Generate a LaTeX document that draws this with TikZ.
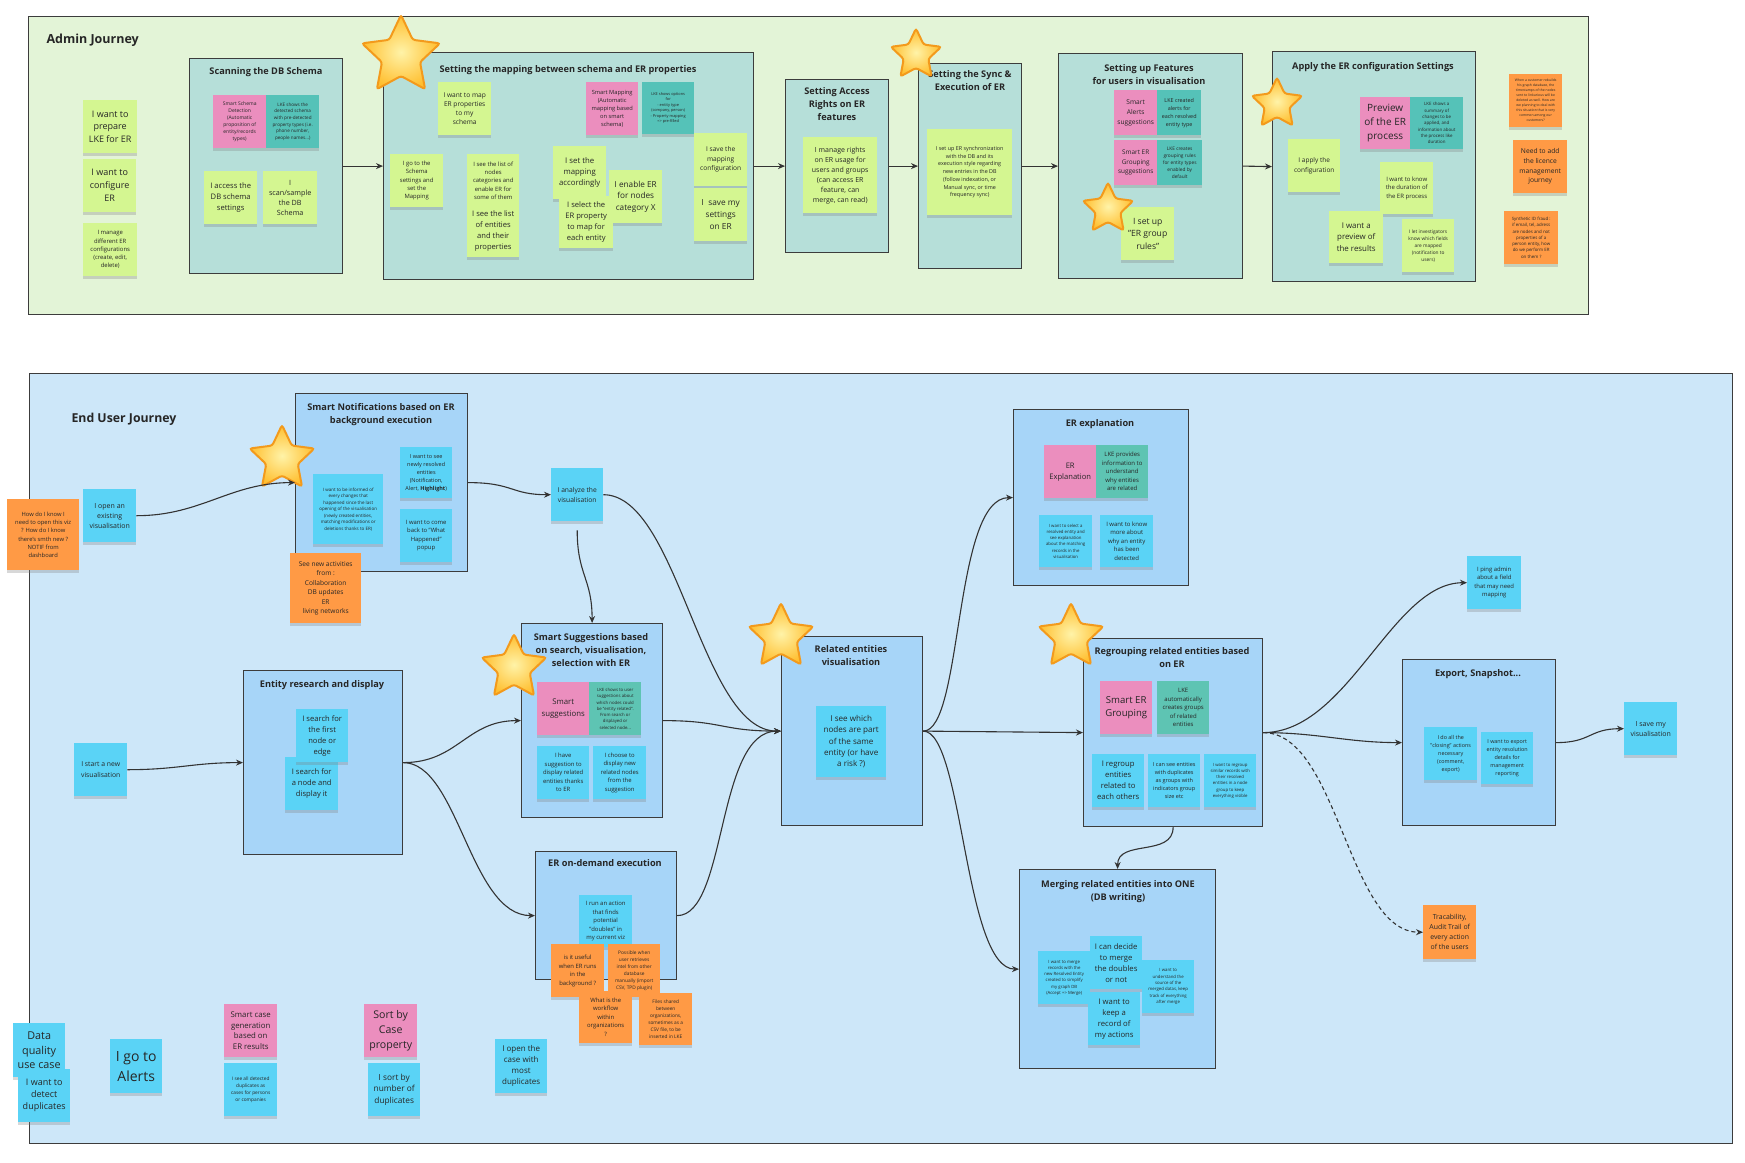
\documentclass[tikz,border=0pt]{standalone}
\usepackage{fontspec}
\setmainfont{Open Sans}
\usetikzlibrary{shapes.geometric,arrows.meta,shadows}
\definecolor{bgA}{HTML}{E3F4D7}
\definecolor{boxA}{HTML}{B6DFD9}
\definecolor{bgE}{HTML}{CDE7F9}
\definecolor{boxE}{HTML}{A7D5F8}
\definecolor{lime}{HTML}{D4F691}
\definecolor{pinkS}{HTML}{EB8EBE}
\definecolor{tealS}{HTML}{55C2B8}
\definecolor{tealE}{HTML}{5EC4B3}
\definecolor{orS}{HTML}{FF9A45}
\definecolor{cyS}{HTML}{5AD3F6}
\definecolor{frm}{HTML}{3C3C3C}
\definecolor{txt}{HTML}{262626}
\definecolor{lnk}{HTML}{333333}
\definecolor{starIn}{HTML}{FFF3A8}
\definecolor{starOut}{HTML}{FFBE2E}
\definecolor{starEdge}{HTML}{F39A1C}
\begin{document}
\begin{tikzpicture}[x=1pt,y=-1pt,
 fs/.style 2 args={font=\fontsize{#1}{#2}\selectfont},
 sz/.style 2 args={minimum width=#1pt, minimum height=#2pt},
 stickyN/.style={anchor=north west, align=center, inner sep=1pt, text=txt, sz={53}{53},
   drop shadow={opacity=0.3, shadow xshift=0pt, shadow yshift=-2.5pt}},
 stG/.style={stickyN, fill=lime},
 stP/.style={stickyN, fill=pinkS},
 stT/.style={stickyN, fill=tealS},
 stE/.style={stickyN, fill=tealE},
 stO/.style={stickyN, fill=orS},
 stC/.style={stickyN, fill=cyS},
 bigframe/.style={draw=frm, line width=1.2pt, anchor=north west, inner sep=0pt},
 abox/.style={bigframe, fill=boxA},
 ebox/.style={bigframe, fill=boxE},
 ttl/.style={font=\fontsize{9.2}{13}\selectfont\bfseries, text=txt, align=center},
 starS/.style={star, star points=5, star point ratio=2.05, inner sep=0pt, draw=starEdge,
   line width=2pt, inner color=starIn, outer color=starOut, rounded corners=2.5pt, minimum size=#1pt},
 conn/.style={draw=lnk, line width=1.1pt, -{Stealth[length=7pt,width=6pt]}},
]
\useasboundingbox (0,0) rectangle (1745,1162);
\fill[white] (0,0) rectangle (1745,1162);

% ===== Admin journey =====
\node[bigframe, fill=bgA, sz={1560}{298}] (adminF) at (28,16) {};
\node[anchor=west, font=\fontsize{12.5}{15}\selectfont\bfseries, text=txt] (adminT) at (43,40) {Admin Journey};

\node[abox, sz={153}{215}] (scan) at (189,58) {};
\node[abox, sz={370}{227}] (map) at (383,52) {};
\node[abox, sz={103}{173}] (acc) at (785,79) {};
\node[abox, sz={103}{205}] (sync) at (918,63) {};
\node[abox, sz={184}{225}] (feat) at (1058,53) {};
\node[abox, sz={203}{230}] (apply) at (1272,51) {};

\node[ttl] (tscan) at (266,72) {Scanning the DB Schema};
\node[ttl] (tmap) at (568,70) {Setting the mapping between schema and ER properties};
\node[ttl] (tacc) at (837,104) {Setting Access\\Rights on ER\\features};
\node[ttl] (tsync) at (970,81) {Setting the Sync \&\\Execution of ER};
\node[ttl] (tfeat) at (1149,75) {Setting up Features\\for users in visualisation};
\node[ttl] (tapply) at (1373,67) {Apply the ER configuration Settings};

\node[stG, fs={9}{12.7}, sz={54}{53}] (a1) at (83,100) {I want to\\prepare\\LKE for ER};
\node[stG, fs={9}{13}] (a2) at (83,159) {I want to\\configure\\ER};
\node[stG, fs={5.9}{8.3}, sz={54}{53}] (a3) at (83,223) {I manage\\different ER\\configurations\\(create, edit,\\delete)};

\node[stP, fs={5}{7}] (s1) at (213,95) {Smart Schema\\Detection\\(Automatic\\proposition of\\entity/records\\types)};
\node[stT, fs={4.6}{6.7}] (s2) at (266,95) {LKE shows the\\detected schema\\with pre-detected\\property types (i.e.\\phone number,\\people names...)};
\node[stG, fs={7.6}{11}] (s3) at (204,171) {I access the\\DB schema\\settings};
\node[stG, fs={7.2}{10}, sz={54}{53}] (s4) at (263,171) {I\\scan/sample\\the DB\\Schema};

\node[stG, fs={6.6}{9.3}] (m1) at (438,82) {I want to map\\ER properties\\to my\\schema};
\node[stP, fs={5.7}{8}, sz={52}{53}] (m2) at (586,82) {Smart Mapping\\(Automatic\\mapping based\\on smart\\schema)};
\node[stT, fs={3.9}{5.5}, sz={52}{52}] (m3) at (642,82) {LKE shows options\\for\\- entity type\\(company, person)\\- Property mapping\\=> pre-filled};
\node[stG, fs={5.9}{8.3}] (m4) at (390,154) {I go to the\\Schema\\settings and\\set the\\Mapping};
\node[stG, fs={5.9}{8.3}, sz={52}{53}] (m5) at (467,154) {I see the list of\\nodes\\categories and\\enable ER for\\some of them};
\node[stG, fs={7.6}{11}, sz={52}{53}] (m6) at (467,204) {I see the list\\of entities\\and their\\properties};
\node[stG, fs={7.8}{11}] (m7) at (553,146) {I set the\\mapping\\accordingly};
\node[stG, fs={8.2}{11.7}] (m9) at (609,170) {I enable ER\\for nodes\\category X};
\node[stG, fs={7.6}{11}, sz={54}{52}] (m8) at (559,196) {I select the\\ER property\\to map for\\each entity};
\node[stG, fs={6.6}{9.5}] (m10) at (694,133) {I save the\\mapping\\configuration};
\node[stG, fs={8.3}{11.7}] (m11) at (694,188) {I\ \ save my\\settings\\on ER};

\node[stG, fs={7}{10}, sz={74}{76}] (r1) at (803,137) {I manage rights\\on ER usage for\\users and groups\\(can access ER\\feature, can\\merge, can read)};
\node[stG, fs={5.4}{7.7}, sz={85}{86}] (y1) at (927,129) {I set up ER synchronization\\with the DB and its\\execution style regarding\\new entries in the DB\\(follow indexation, or\\Manual sync, or time\\frequency sync)};

\node[stP, fs={6.6}{10}, sz={43}{45}] (f1) at (1114,90) {Smart\\Alerts\\suggestions};
\node[stT, fs={5.4}{8}, sz={44}{45}] (f2) at (1157,90) {LKE created\\alerts for\\each resolved\\entity type};
\node[stP, fs={6.4}{9.3}, sz={43}{45}] (f3) at (1114,140) {Smart ER\\Grouping\\suggestions};
\node[stT, fs={4.8}{7}, sz={45}{45}] (f4) at (1157,140) {LKE creates\\grouping rules\\for entity types\\enabled by\\default};
\node[stG, fs={8.6}{12.3}] (f5) at (1121,207) {I set up\\"ER group\\rules"};

\node[stP, fs={10}{14}, sz={50}{52}] (p1) at (1360,97) {Preview\\of the ER\\process};
\node[stT, fs={4.4}{6.3}, sz={53}{52}] (p2) at (1410,97) {LKE shows a\\summary of\\changes to be\\applied, and\\information about\\the process like\\duration};
\node[stG, fs={6.5}{9.3}, sz={52}{53}] (p3) at (1288,139) {I apply the\\configuration};
\node[stG, fs={6}{8.7}, sz={53}{52}] (p4) at (1380,162) {I want to know\\the duration of\\the ER process};
\node[stG, fs={7.9}{11.3}, sz={54}{52}] (p5) at (1329,211) {I want a\\preview of\\the results};
\node[stG, fs={4.8}{7}, sz={52}{53}] (p6) at (1402,219) {I let investigators\\know which fields\\are mapped\\(notification to\\users)};

\node[stO, fs={3.4}{5}] (o1) at (1509,74) {When a customer rebuilds\\his graph database, the\\timestamps of the nodes\\sent to linkurious will be\\deleted as well. How are\\we planning to deal with\\this situation that is very\\common among our\\customers?};
\node[stO, fs={6.7}{9.7}, sz={54}{53}] (o2) at (1513,140) {Need to add\\the licence\\management\\journey};
\node[stO, fs={4.4}{6.3}, sz={54}{53}] (o3) at (1504,211) {Synthetic ID fraud :\\if email, tel, adress\\are nodes and not\\properties of a\\person entity, how\\do we perform ER\\on them ?};

\draw[conn] (scan.east) -- (map.west);
\draw[conn] (map.east) -- (acc.west);
\draw[conn] (acc.east) -- (sync.west);
\draw[conn] (sync.east) -- (feat.west);
\draw[conn] (feat.east) -- (apply.west);

% ===== End user journey =====
\node[bigframe, fill=bgE, sz={1703}{770}] (userF) at (29,373) {};
\node[anchor=west, font=\fontsize{12.3}{15}\selectfont\bfseries, text=txt] (userT) at (68,419) {End User Journey};

\node[ebox, sz={172}{178}] (notif) at (295,393) {};
\node[ebox, sz={141}{194}] (ssb) at (521,623) {};
\node[ebox, sz={141}{128}] (odb) at (535,851) {};
\node[ebox, sz={159}{184}] (erb) at (243,670) {};
\node[ebox, sz={141}{189}] (relb) at (781,636) {};
\node[ebox, sz={175}{176}] (erx) at (1013,409) {};
\node[ebox, sz={179}{188}] (regb) at (1083,638) {};
\node[ebox, sz={196}{199}] (mrg) at (1019,869) {};
\node[ebox, sz={153}{166}] (exp) at (1402,659) {};

\node[ttl] (tnotif) at (381,415) {Smart Notifications based on ER\\background execution};
\node[ttl] (tss) at (591,650) {Smart Suggestions based\\on search, visualisation,\\selection with ER};
\node[ttl] (tod) at (605,863) {ER on-demand execution};
\node[ttl] (ter) at (322,685) {Entity research and display};
\node[ttl] (trel) at (851,656) {Related entities\\visualisation};
\node[ttl] (terx) at (1100,424) {ER explanation};
\node[ttl] (treg) at (1172,658) {Regrouping related entities based\\on ER};
\node[ttl] (tmrg) at (1118,892) {Merging related entities into ONE\\(DB writing)};
\node[ttl] (texp) at (1478,674) {Export, Snapshot...};

\node[stO, fs={5.8}{8.3}, sz={72}{71}] (eq) at (7,499) {How do I know I\\need to open this viz\\? How do I know\\there's smth new ?\\NOTIF from\\dashboard};
\node[stC, fs={7}{10}] (eopen) at (83,489) {I open an\\existing\\visualisation};

\node[stC, fs={4.5}{6.5}, sz={70}{70}] (n1) at (313,474) {I want to be informed of\\every changes that\\happened since the last\\opening of the visualisation\\(newly created entities,\\matching modifications or\\deletions thanks to ER)};
\node[stC, fs={5.5}{8}, sz={52}{51}] (n2) at (400,447) {I want to see\\newly resolved\\entities\\(Notification,\\Alert, \textbf{Highlight})};
\node[stC, fs={5.9}{8.5}, sz={52}{53}] (n3) at (400,509) {I want to come\\back to "What\\Happened"\\popup};
\node[stO, fs={6.6}{9.5}, sz={71}{70}] (n4) at (290,553) {See new activities\\from :\\Collaboration\\DB updates\\ER\\living networks};

\node[stC, fs={6.7}{10}, sz={52}{53}] (analyze) at (551,468) {I analyze the\\visualisation};

\node[stP, fs={7.8}{11.3}, sz={52}{53}] (ss1) at (537,682) {Smart\\suggestions};
\node[stE, fs={4.3}{6.3}, sz={52}{53}] (ss2) at (589,682) {LKE shows to user\\suggestions about\\which nodes could\\be "entity related".\\From search or\\displayed or\\selected node...};
\node[stC, fs={5.9}{8.5}, sz={52}{53}] (ss3) at (537,746) {I have\\suggestion to\\display related\\entities thanks\\to ER};
\node[stC, fs={5.9}{8.5}] (ss4) at (593,746) {I choose to\\display new\\related nodes\\from the\\suggestion};

\node[stC, fs={5.9}{8.5}, sz={53}{52}] (od1) at (579,895) {I run an action\\that finds\\potential\\"doubles" in\\my current viz};
\node[stO, fs={5.9}{8.5}] (od2) at (551,944) {is it useful\\when ER runs\\in the\\background ?};
\node[stO, fs={4.8}{7}, sz={52}{53}] (od3) at (608,944) {Possible when\\user retrieves\\intel from other\\database\\manually (import\\CSV, TPD plugin)};
\node[stO, fs={5.9}{8.5}, sz={53}{52}] (od4) at (579,991) {What is the\\workflow\\within\\organizations\\?};
\node[stO, fs={4.8}{7}, sz={53}{52}] (od5) at (639,993) {Files shared\\between\\organizations,\\sometimes as a\\CSV file, to be\\inserted in LKE};

\node[stC, fs={6.8}{10.3}] (start) at (74,743) {I start a new\\visualisation};
\node[stC, fs={7.6}{11}] (er2) at (285,757) {I search for\\a node and\\display it};
\node[stC, fs={7.6}{11}, sz={52}{53}] (er1) at (296,709) {I search for\\the first\\node or\\edge};

\node[stC, fs={8.1}{11.3}, sz={70}{71}] (rel) at (816,706) {I see which\\nodes are part\\of the same\\entity (or have\\a risk ?)};

\node[stP, fs={7.6}{11}, sz={52}{53}] (x1) at (1044,445) {ER\\Explanation};
\node[stE, fs={6}{8.5}, sz={52}{53}] (x2) at (1096,445) {LKE provides\\information to\\understand\\why entities\\are related};
\node[stC, fs={4.3}{6.3}, sz={53}{52}] (x3) at (1039,515) {I want to select a\\resolved entity and\\see explanation\\about the matching\\records in the\\visualisation};
\node[stC, fs={6}{8.5}, sz={53}{52}] (x4) at (1100,515) {I want to know\\more about\\why an entity\\has been\\detected};

\node[stP, fs={9.6}{13.3}, sz={52}{53}] (g1) at (1100,681) {Smart ER\\Grouping};
\node[stE, fs={6}{8.5}, sz={52}{53}] (g2) at (1157,681) {LKE\\automatically\\creates groups\\of related\\entities};
\node[stC, fs={7.7}{11}, sz={52}{53}] (g3) at (1092,754) {I regroup\\entities\\related to\\each others};
\node[stC, fs={5.5}{8}, sz={52}{53}] (g4) at (1148,754) {I can see entities\\with duplicates\\as groups with\\indicators group\\size etc};
\node[stC, fs={4.3}{6.2}, sz={52}{53}] (g5) at (1204,754) {I want to regroup\\similar records with\\their resolved\\entities in a node\\group to keep\\everything visible};

\node[stC, fs={4.3}{6.2}, sz={52}{53}] (mg1) at (1038,951) {I want to merge\\records with the\\new Resolved Entity\\created to simplify\\my graph DB\\(Accept => Merge)};
\node[stC, fs={7.7}{11}, sz={52}{53}] (mg2) at (1090,936) {I can decide\\to merge\\the doubles\\or not};
\node[stC, fs={7.7}{11}, sz={52}{53}] (mg3) at (1088,992) {I want to\\keep a\\record of\\my actions};
\node[stC, fs={4.3}{6.3}, sz={52}{53}] (mg4) at (1142,960) {I want to\\understand the\\source of the\\merged datas, keep\\track of everything\\after merge};

\node[stC, fs={5.9}{8.5}, sz={54}{53}] (ping) at (1467,556) {I ping admin\\about a field\\that may need\\mapping};
\node[stC, fs={5.4}{8}] (ex1) at (1424,727) {I do all the\\"closing" actions\\necessary\\(comment,\\export)};
\node[stC, fs={5.4}{8}, sz={52}{52}] (ex2) at (1481,732) {I want to export\\entity resolution\\details for\\management\\reporting};
\node[stC, fs={7}{10.3}] (save) at (1624,702) {I save my\\visualisation};
\node[stO, fs={6.9}{10}, sz={53}{54}] (trace) at (1423,905) {Tracability,\\Audit Trail of\\every action\\of the users};

\node[stC, fs={10.8}{14.7}, sz={52}{54}] (b1) at (13,1023) {Data\\quality\\use case};
\node[stC, fs={9}{12}, sz={52}{53}] (b2) at (18,1069) {I want to\\detect\\duplicates};
\node[stC, fs={14}{20}, sz={52}{54}] (b3) at (110,1039) {I go to\\Alerts};
\node[stP, fs={7.8}{10.7}, sz={53}{53}] (b4) at (224,1004) {Smart case\\generation\\based on\\ER results};
\node[stC, fs={4.8}{6.7}, sz={53}{53}] (b5) at (224,1063) {I see all detected\\duplicates as\\cases for persons\\or companies};
\node[stP, fs={10.6}{14.7}, sz={53}{53}] (b6) at (364,1004) {Sort by\\Case\\property};
\node[stC, fs={8.3}{11.3}, sz={52}{53}] (b7) at (368,1063) {I sort by\\number of\\duplicates};
\node[stC, fs={8}{11}, sz={52}{54}] (b8) at (495,1039) {I open the\\case with\\most\\duplicates};

% ===== stars =====
\node[starS=82] (st1) at (401,56) {};
\node[starS=53] (st2) at (916,55) {};
\node[starS=53] (st3) at (1108,209) {};
\node[starS=53] (st4) at (1277,104) {};
\node[starS=68] (st5) at (282,459) {};
\node[starS=68] (st6) at (514,668) {};
\node[starS=68] (st7) at (781,637) {};
\node[starS=68] (st8) at (1071,637) {};

% ===== connectors =====
\draw[conn] (eopen.east) .. controls +(65,0) and +(-65,0) .. (notif.west);
\draw[conn] (notif.east) .. controls +(45,0) and +(-40,0) .. (analyze.west);
\draw[conn] ([shift={(0,9)}]analyze.south) .. controls +(0,45) and +(0,-45) .. (ssb.north);
\draw[conn] (analyze.east) .. controls +(75,0) and +(-80,0) .. (relb.west);
\draw[conn] (start.east) .. controls +(50,0) and +(-50,0) .. (erb.west);
\draw[conn] (erb.east) .. controls +(55,0) and +(-55,0) .. (ssb.west);
\draw[conn] (erb.east) .. controls +(55,0) and +(-65,0) .. (odb.west);
\draw[conn] (ssb.east) .. controls +(60,0) and +(-60,0) .. (relb.west);
\draw[conn] (odb.east) .. controls +(50,0) and +(-65,0) .. (relb.west);
\draw[conn] (relb.east) .. controls +(40,0) and +(-60,0) .. (erx.west);
\draw[conn] (relb.east) -- (regb.west);
\draw[conn] (relb.east) .. controls +(40,0) and +(-55,0) .. (mrg.west);
\draw[conn] (regb.south) .. controls +(0,30) and +(0,-30) .. (mrg.north);
\draw[conn] (regb.east) .. controls +(85,0) and +(-75,0) .. (ping.west);
\draw[conn] (regb.east) .. controls +(55,0) and +(-55,0) .. (exp.west);
\draw[conn, dash pattern=on 4pt off 3pt] (regb.east) .. controls +(75,0) and +(-75,0) .. (trace.west);
\draw[conn] (exp.east) .. controls +(35,0) and +(-35,0) .. (save.west);
\end{tikzpicture}
\end{document}
